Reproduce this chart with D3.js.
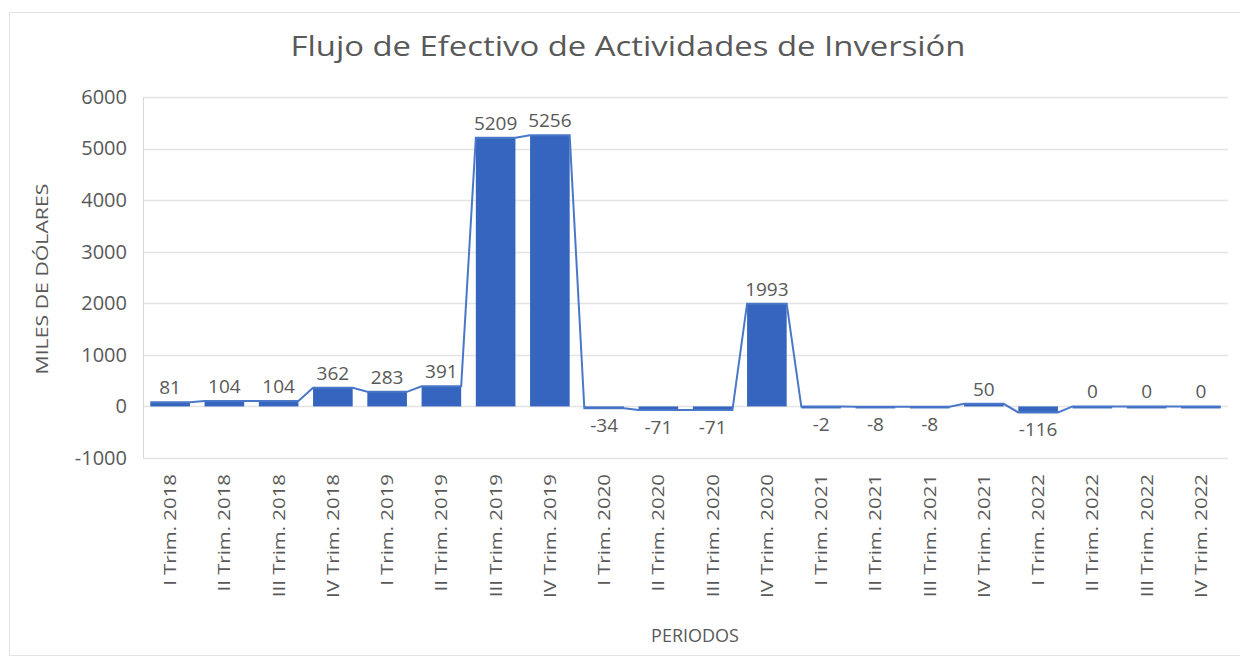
<!DOCTYPE html>
<html>
<head>
<meta charset="utf-8">
<script src="https://cdn.jsdelivr.net/npm/d3@7"></script>
<style>
  body { margin: 0; background: #fff; }
  text { font-family: "Open Sans", Lato, sans-serif; fill: #595959; }
</style>
</head>
<body>
<div id="chart"></div>
<script>
var periods = ["I Trim. 2018", "II Trim. 2018", "III Trim. 2018", "IV Trim. 2018",
    "I Trim. 2019", "II Trim. 2019", "III Trim. 2019", "IV Trim. 2019",
    "I Trim. 2020", "II Trim. 2020", "III Trim. 2020", "IV Trim. 2020",
    "I Trim. 2021", "II Trim. 2021", "III Trim. 2021", "IV Trim. 2021",
    "I Trim. 2022", "II Trim. 2022", "III Trim. 2022", "IV Trim. 2022"];
var flujo = [81, 104, 104, 362, 283, 391, 5209, 5256, -34, -71, -71, 1993,
    -2, -8, -8, 50, -116, 0, 0, 0];
var yTicks = [-1000, 0, 1000, 2000, 3000, 4000, 5000, 6000];

(function() {
    var W = 1240, H = 657;
    var margin = { top: 97, left: 143, right: 12, bottom: 199 },
        width = W - margin.left - margin.right,
        height = H - margin.top - margin.bottom;

    var svg = d3.select("#chart").append("svg")
        .attr("width", W)
        .attr("height", H);

    // chart border
    svg.append("rect")
        .attr("x", 9.5).attr("y", 12.5)
        .attr("width", W)
        .attr("height", H - 14)
        .attr("fill", "none")
        .attr("stroke", "#e3e3e3");

    var g = svg.append("g")
        .attr("transform", "translate(" + margin.left + "," + margin.top + ")");

    var x = d3.scaleBand().domain(periods).range([0, width]).paddingInner(0.27).paddingOuter(0.135);
    var y = d3.scaleLinear().domain([-1000, 6000]).range([height, 0]);

    // gridlines
    g.selectAll(".grid").data(yTicks).enter().append("line")
        .attr("class", "grid")
        .attr("x1", 0).attr("x2", width)
        .attr("y1", function(d) { return Math.round(y(d)) + 0.5; })
        .attr("y2", function(d) { return Math.round(y(d)) + 0.5; })
        .attr("stroke", "#e4e4e4")
        .attr("stroke-width", 1.3);

    // left axis line
    g.append("line")
        .attr("x1", 0.5).attr("x2", 0.5)
        .attr("y1", 0).attr("y2", height)
        .attr("stroke", "#d9d9d9");

    // excel style: plain hyphen for negatives
    var yAxis = d3.axisLeft(y).tickValues(yTicks).tickSize(0).tickPadding(16)
        .tickFormat(function(d) { return String(d); });
    g.append("g").attr("class", "y-axis").call(yAxis)
        .call(function(s) { s.select(".domain").remove(); })
        .selectAll("text")
        .style("font-family", "'Open Sans', sans-serif")
        .style("font-size", "20px")
        .style("fill", "#595959");

    // bars
    g.selectAll(".bar").data(flujo).enter().append("rect")
        .attr("class", "bar")
        .attr("x", function(d, i) { return x(periods[i]); })
        .attr("width", x.bandwidth())
        .attr("y", function(d) { return y(Math.max(0, d)); })
        .attr("height", function(d) { return Math.max(2, Math.abs(y(d) - y(0))); })
        .attr("fill", "#3565be");

    // line through bar corners
    var pts = [];
    flujo.forEach(function(d, i) {
        pts.push([x(periods[i]), y(d)]);
        pts.push([x(periods[i]) + x.bandwidth(), y(d)]);
    });
    g.append("path")
        .datum(pts)
        .attr("d", d3.line())
        .attr("fill", "none")
        .attr("stroke", "#4a78c8")
        .attr("stroke-width", 2);

    // data labels
    g.selectAll(".lbl").data(flujo).enter().append("text")
        .attr("class", "lbl")
        .attr("x", function(d, i) { return x(periods[i]) + x.bandwidth() / 2; })
        .attr("y", function(d) { return d < 0 ? y(d) + 24 : y(d) - 8; })
        .attr("text-anchor", "middle")
        .style("font-size", "19px")
        .text(function(d) { return d; });

    // x labels (stretched along their length like the source image)
    g.selectAll(".xl").data(periods).enter().append("text")
        .attr("class", "xl")
        .attr("transform", function(d) {
            return "translate(" + (x(d) + x.bandwidth() / 2 + 6) + "," + (height + 16) + ") rotate(-90) scale(1.2,1)";
        })
        .attr("text-anchor", "end")
        .style("font-size", "17px")
        .text(function(d) { return d; });

    // titles
    svg.append("text")
        .attr("x", 628).attr("y", 56)
        .attr("text-anchor", "middle")
        .attr("textLength", 675)
        .attr("lengthAdjust", "spacingAndGlyphs")
        .style("font-size", "27px")
        .text("Flujo de Efectivo de Actividades de Inversión");

    svg.append("text")
        .attr("transform", "translate(48,279) rotate(-90) scale(1.25,1)")
        .attr("text-anchor", "middle")
        .style("font-size", "17px")
        .text("MILES DE DÓLARES");

    svg.append("text")
        .attr("x", 695).attr("y", 642)
        .attr("text-anchor", "middle")
        .style("font-size", "18px")
        .text("PERIODOS");
})();
</script>
</body>
</html>
